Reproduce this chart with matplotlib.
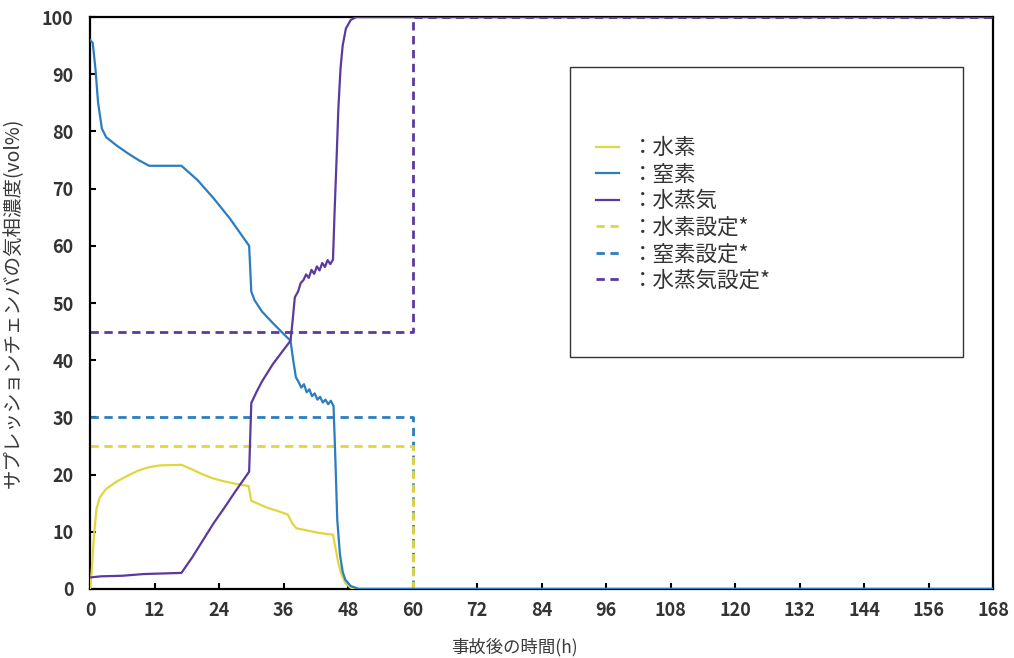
import matplotlib
matplotlib.use("Agg")
import matplotlib.pyplot as plt
from matplotlib.patches import Rectangle

plt.rcParams['font.family'] = ['Noto Sans CJK JP', 'DejaVu Sans']

# ---- data ----
h2_t = [0, 0.3, 0.7, 1.2, 1.8, 3, 5, 7, 9, 11, 13, 17, 19, 21, 23, 25, 27, 29.5,
        30, 31, 33, 35, 36.8, 37.6, 38.4, 40, 42, 44, 45.2, 45.7, 46.2, 46.8,
        47.5, 48.5, 50, 168]
h2_v = [0, 3, 9, 14, 16, 17.5, 18.8, 19.8, 20.7, 21.3, 21.6, 21.7, 20.9, 20.0,
        19.3, 18.8, 18.4, 18.0, 15.4, 15.0, 14.2, 13.6, 13.0, 11.5, 10.6, 10.3,
        9.9, 9.6, 9.5, 7.0, 4.5, 2.5, 1.0, 0.2, 0, 0]

n2_t = [0, 0.5, 1, 1.5, 2.2, 3, 5, 7, 9, 11, 17, 20, 23, 26, 29.6, 30.0, 30.6,
        32, 34, 36, 37.3, 37.8, 38.3, 38.8, 39.3, 39.8, 40.3, 40.8, 41.3, 41.8,
        42.3, 42.8, 43.3, 43.8, 44.3, 44.8, 45.3, 45.6, 46.0, 46.5, 47.0, 47.5,
        48.5, 50, 168]
n2_v = [96, 95.5, 91, 85, 80.5, 79, 77.5, 76.2, 75, 74, 74, 71.5, 68.3, 64.8,
        60, 52, 50.5, 48.5, 46.5, 44.6, 43.4, 40, 37, 36.2, 35.2, 35.8, 34.4,
        34.9, 33.7, 34.2, 33.1, 33.6, 32.6, 33.1, 32.3, 32.9, 32.0, 24, 12, 6,
        3, 1.6, 0.5, 0, 0]

st_t = [0, 2, 6, 10, 17, 19, 21, 23, 25, 27, 29.6, 30.0, 31, 32, 34, 36, 37.3,
        37.7, 38.1, 38.7, 39.2, 39.7, 40.2, 40.7, 41.2, 41.7, 42.2, 42.7, 43.2,
        43.7, 44.2, 44.7, 45.2, 45.5, 45.9, 46.2, 46.6, 47.0, 47.6, 48.5, 49.5,
        168]
st_v = [2.0, 2.2, 2.3, 2.6, 2.8, 5.5, 8.5, 11.5, 14.2, 17.0, 20.5, 32.5, 34.5,
        36.3, 39.3, 41.8, 43.4, 47, 51, 52, 53.5, 54.0, 55.0, 54.4, 55.8, 55.1,
        56.4, 55.7, 57.0, 56.3, 57.5, 56.8, 57.6, 66, 76, 84, 91, 95, 98, 99.5,
        100, 100]

set_t = [0, 60, 60, 168]
h2_set = [25, 25, 0, 0]
n2_set = [30, 30, 0, 0]
st_set = [45, 45, 100, 100]

labels = ['：水素', '：窒素', '：水蒸気', '：水素設定*', '：窒素設定*', '：水蒸気設定*']
x_ticks = list(range(0, 169, 12))
y_ticks = list(range(0, 101, 10))

# ---- styles ----
c_h2 = '#E2D640'
c_n2 = '#2A7DC0'
c_st = '#5A3A9E'

fig = plt.figure(figsize=(10.14, 6.58), dpi=100)
ax = fig.add_axes([0.0888, 0.105, 0.8905, 0.869])

l1, = ax.plot(h2_t, h2_v, color=c_h2, lw=1.6, zorder=3)
l2, = ax.plot(n2_t, n2_v, color=c_n2, lw=1.6, zorder=3)
l3, = ax.plot(st_t, st_v, color=c_st, lw=1.6, zorder=3)
dash = (0, (3, 2))
l5, = ax.plot(set_t, n2_set, color=c_n2, lw=2.0, linestyle=dash, zorder=2)
l4, = ax.plot(set_t, h2_set, color=c_h2, lw=2.0, linestyle=dash, zorder=2)
l6, = ax.plot(set_t, st_set, color=c_st, lw=2.0, linestyle=dash, zorder=2)

ax.set_xlim(0, 168)
ax.set_ylim(0, 100)
ax.set_xticks(x_ticks)
ax.set_yticks(y_ticks)
ax.tick_params(direction='in', length=4, width=1.5, labelsize=13,
               labelcolor='#333333', color='black')
for lab in ax.get_xticklabels() + ax.get_yticklabels():
    lab.set_fontweight('bold')
ax.tick_params(axis='y', pad=12)
ax.tick_params(axis='x', pad=9)
for s in ax.spines.values():
    s.set_linewidth(1.6)
    s.set_color('black')

ax.set_xlabel('事故後の時間(h)', fontsize=12.5, color='#3a3a3a')
ax.xaxis.set_label_coords(0.47, -0.085)
ax.set_ylabel('サプレッションチェンバの気相濃度(vol%)', fontsize=14, color='#3a3a3a')
ax.yaxis.set_label_coords(-0.073, 0.5)

# legend frame
ax.add_patch(Rectangle((0.5316, 0.4056), 0.4352, 0.507, transform=ax.transAxes,
                       facecolor='white', edgecolor='#333333', lw=1.0, zorder=5))
leg = ax.legend([l1, l2, l3, l4, l5, l6], labels, loc='center left',
                bbox_to_anchor=(0.5485, 0.655), frameon=False, fontsize=15.5,
                handlelength=1.05, handletextpad=0.6, labelspacing=0.21,
                borderpad=0)
leg.set_zorder(6)
for t in leg.get_texts():
    t.set_color('#333333')

fig.savefig('out.png', dpi=100)
